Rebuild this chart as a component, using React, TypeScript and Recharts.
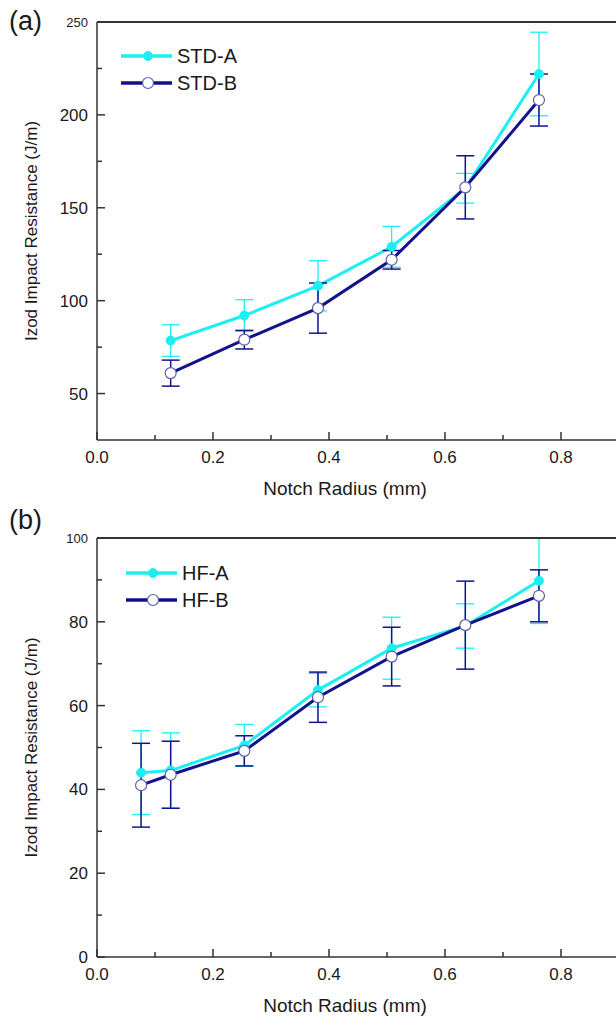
import React from 'react';
import { LineChart, Line, XAxis, YAxis, ErrorBar, ReferenceLine, Legend } from 'recharts';

// ---------- data ----------
const radiusTop = [0.127, 0.254, 0.381, 0.508, 0.635, 0.762];
const stdA = [78.5, 92, 108, 129, 160.5, 222];
const stdAErr = [8.5, 8.5, 13.5, 11, 8, 22.5];
const stdB = [61, 79, 96, 122, 161, 208];
const stdBErr = [7, 5, 13.5, 5, 17, 14];

const radiusBottom = [0.076, 0.127, 0.254, 0.381, 0.508, 0.635, 0.762];
const hfA = [44, 44.5, 50.5, 63.7, 73.7, 79, 89.8];
const hfAErr = [10, 9, 5, 4, 7.4, 5.3, 10.2];
const hfB = [41, 43.5, 49.2, 62, 71.7, 79.2, 86.2];
const hfBErr = [10, 8, 3.6, 6, 7, 10.5, 6.2];

const xTicks = [0, 0.1, 0.2, 0.3, 0.4, 0.5, 0.6, 0.7, 0.8, 0.9, 1.0];
const xLabels = [0, 0.2, 0.4, 0.6, 0.8];
const topYTicks = [50, 75, 100, 125, 150, 175, 200, 225, 250];
const topYLabels = [50, 100, 150, 200, 250];
const bottomYTicks = [0, 10, 20, 30, 40, 50, 60, 70, 80, 90, 100];
const bottomYLabels = [0, 20, 40, 60, 80, 100];

const topSeries = ['STD-A', 'STD-B'];
const bottomSeries = ['HF-A', 'HF-B'];
const xTitle = 'Notch Radius (mm)';
const yTitle = 'Izod Impact Resistance (J/m)';

// ---------- tables ----------
const topData = radiusTop.map((r, i) => ({ r, a: stdA[i], aErr: stdAErr[i], b: stdB[i], bErr: stdBErr[i] }));
const bottomData = radiusBottom.map((r, i) => ({ r, a: hfA[i], aErr: hfAErr[i], b: hfB[i], bErr: hfBErr[i] }));

// ---------- styles ----------
const CYAN = '#1CEFF2';
const NAVY = '#12128C';
const OPEN_STROKE = '#5E5EA8';
const AXIS = '#333333';
const TEXT = '#1a1a1a';
const FONT = '"Liberation Sans", Arial, sans-serif';

const makeYTick = (labels: number[], topVal: number) => (props: any) => {
  const { x, y, payload } = props;
  const v = payload.value;
  const major = labels.includes(v);
  return (
    <g>
      <line x1={x} y1={y} x2={x + (major ? 8 : 5)} y2={y} stroke={AXIS} strokeWidth={1.5} />
      {major && (
        <text x={x - 9} y={y} dy="0.35em" textAnchor="end" fontSize={v === topVal ? 13 : 17} fill={TEXT} fontFamily={FONT}>
          {v}
        </text>
      )}
    </g>
  );
};

const XTick = (props: any) => {
  const { x, y, payload } = props;
  const v = payload.value;
  const major = xLabels.includes(v) || Math.abs(v - 1) < 1e-9;
  const labelled = xLabels.includes(v);
  return (
    <g>
      <line x1={x} y1={y} x2={x} y2={y - (major ? 8 : 5)} stroke={AXIS} strokeWidth={1.5} />
      {labelled && (
        <text x={x} y={y + 17} dy="0.35em" textAnchor="middle" fontSize={17} fill={TEXT} fontFamily={FONT}>
          {v.toFixed(1)}
        </text>
      )}
    </g>
  );
};

const XTitle = (props: any) => {
  const vb = props.viewBox;
  return (
    <text x={345} y={vb.y + 55} textAnchor="middle" fontSize={19} fill={TEXT} fontFamily={FONT}>
      {xTitle}
    </text>
  );
};

const YTitle = (props: any) => {
  const vb = props.viewBox;
  const cx = 31;
  const cy = vb.y + vb.height / 2;
  return (
    <text x={cx} y={cy} dy="0.35em" textAnchor="middle" fontSize={17} fill={TEXT} fontFamily={FONT} transform={`rotate(-90, ${cx}, ${cy})`}>
      {yTitle}
    </text>
  );
};

const makeLegend = (names: string[]) => () => (
  <svg width={170} height={62} style={{ display: 'block' }}>
    {names.map((n, i) => {
      const y = 12 + i * 27;
      return (
        <g key={n}>
          <line x1={0} x2={51} y1={y} y2={y} stroke={i === 0 ? CYAN : NAVY} strokeWidth={3.5} />
          {i === 0 ? (
            <circle cx={27} cy={y} r={4.5} fill={CYAN} stroke={CYAN} />
          ) : (
            <circle cx={27} cy={y} r={5.5} fill="#fff" stroke={OPEN_STROKE} strokeWidth={1.2} />
          )}
          <text x={56} y={y} dy="0.36em" fontSize={20} fill={TEXT} fontFamily={FONT}>
            {n}
          </text>
        </g>
      );
    })}
  </svg>
);

type PanelProps = {
  data: any[];
  height: number;
  top: number;
  marginTop: number;
  domain: [number, number];
  yTicks: number[];
  yLabels: number[];
  names: string[];
  legendPos: { left: number; top: number };
};

const Panel = ({ data, height, top, marginTop, domain, yTicks, yLabels, names, legendPos }: PanelProps) => (
  <div style={{ position: 'absolute', left: 0, top }}>
    <LineChart width={700} height={height} data={data} margin={{ top: marginTop, right: 23, bottom: 0, left: 37 }}>
      <XAxis
        dataKey="r"
        type="number"
        domain={[0, 1]}
        ticks={xTicks}
        interval={0}
        height={60}
        tickSize={0}
        tickMargin={0}
        tickLine={false}
        tick={XTick}
        axisLine={{ stroke: AXIS, strokeWidth: 1.5 }}
        allowDataOverflow
        label={{ content: XTitle }}
      />
      <YAxis
        type="number"
        domain={domain}
        ticks={yTicks}
        interval={0}
        width={60}
        tickSize={0}
        tickMargin={0}
        tickLine={false}
        tick={makeYTick(yLabels, domain[1])}
        axisLine={{ stroke: AXIS, strokeWidth: 1.5 }}
        allowDataOverflow
        label={{ content: YTitle }}
      />
      <Legend
        layout="vertical"
        align="center"
        verticalAlign="middle"
        content={makeLegend(names)}
        wrapperStyle={{ position: 'absolute', left: legendPos.left, top: legendPos.top, width: 170, height: 62 }}
      />
      <Line
        dataKey="a"
        name={names[0]}
        stroke={CYAN}
        strokeWidth={3}
        isAnimationActive={false}
        dot={{ r: 4.5, fill: CYAN, stroke: CYAN, strokeWidth: 1 }}
        activeDot={false}
      >
        <ErrorBar dataKey="aErr" direction="y" width={9} stroke={CYAN} strokeWidth={1.3} isAnimationActive={false} />
      </Line>
      <Line
        dataKey="b"
        name={names[1]}
        stroke={NAVY}
        strokeWidth={3}
        isAnimationActive={false}
        dot={{ r: 5.5, fill: '#ffffff', stroke: OPEN_STROKE, strokeWidth: 1.2 }}
        activeDot={false}
      >
        <ErrorBar dataKey="bErr" direction="y" width={9} stroke={NAVY} strokeWidth={1.5} isAnimationActive={false} />
      </Line>
      <ReferenceLine y={domain[1]} stroke={AXIS} strokeWidth={1.8} />
    </LineChart>
  </div>
);

export default function App() {
  return (
    <div style={{ position: 'absolute', left: 0, top: 0, width: 616, height: 1017, overflow: 'hidden', background: '#fff', fontFamily: FONT }}>
      <Panel
        data={topData}
        height={500}
        top={0}
        marginTop={22}
        domain={[25, 250]}
        yTicks={topYTicks}
        yLabels={topYLabels}
        names={topSeries}
        legendPos={{ left: 121, top: 44 }}
      />
      <Panel
        data={bottomData}
        height={507}
        top={510}
        marginTop={28}
        domain={[0, 100]}
        yTicks={bottomYTicks}
        yLabels={bottomYLabels}
        names={bottomSeries}
        legendPos={{ left: 126, top: 51 }}
      />
      <svg width={616} height={1017} style={{ position: 'absolute', left: 0, top: 0, pointerEvents: 'none' }}>
        <text x={9} y={30} fontSize={27} fill={TEXT} fontFamily={FONT}>(a)</text>
        <text x={9} y={529} fontSize={27} fill={TEXT} fontFamily={FONT}>(b)</text>
      </svg>
    </div>
  );
}
